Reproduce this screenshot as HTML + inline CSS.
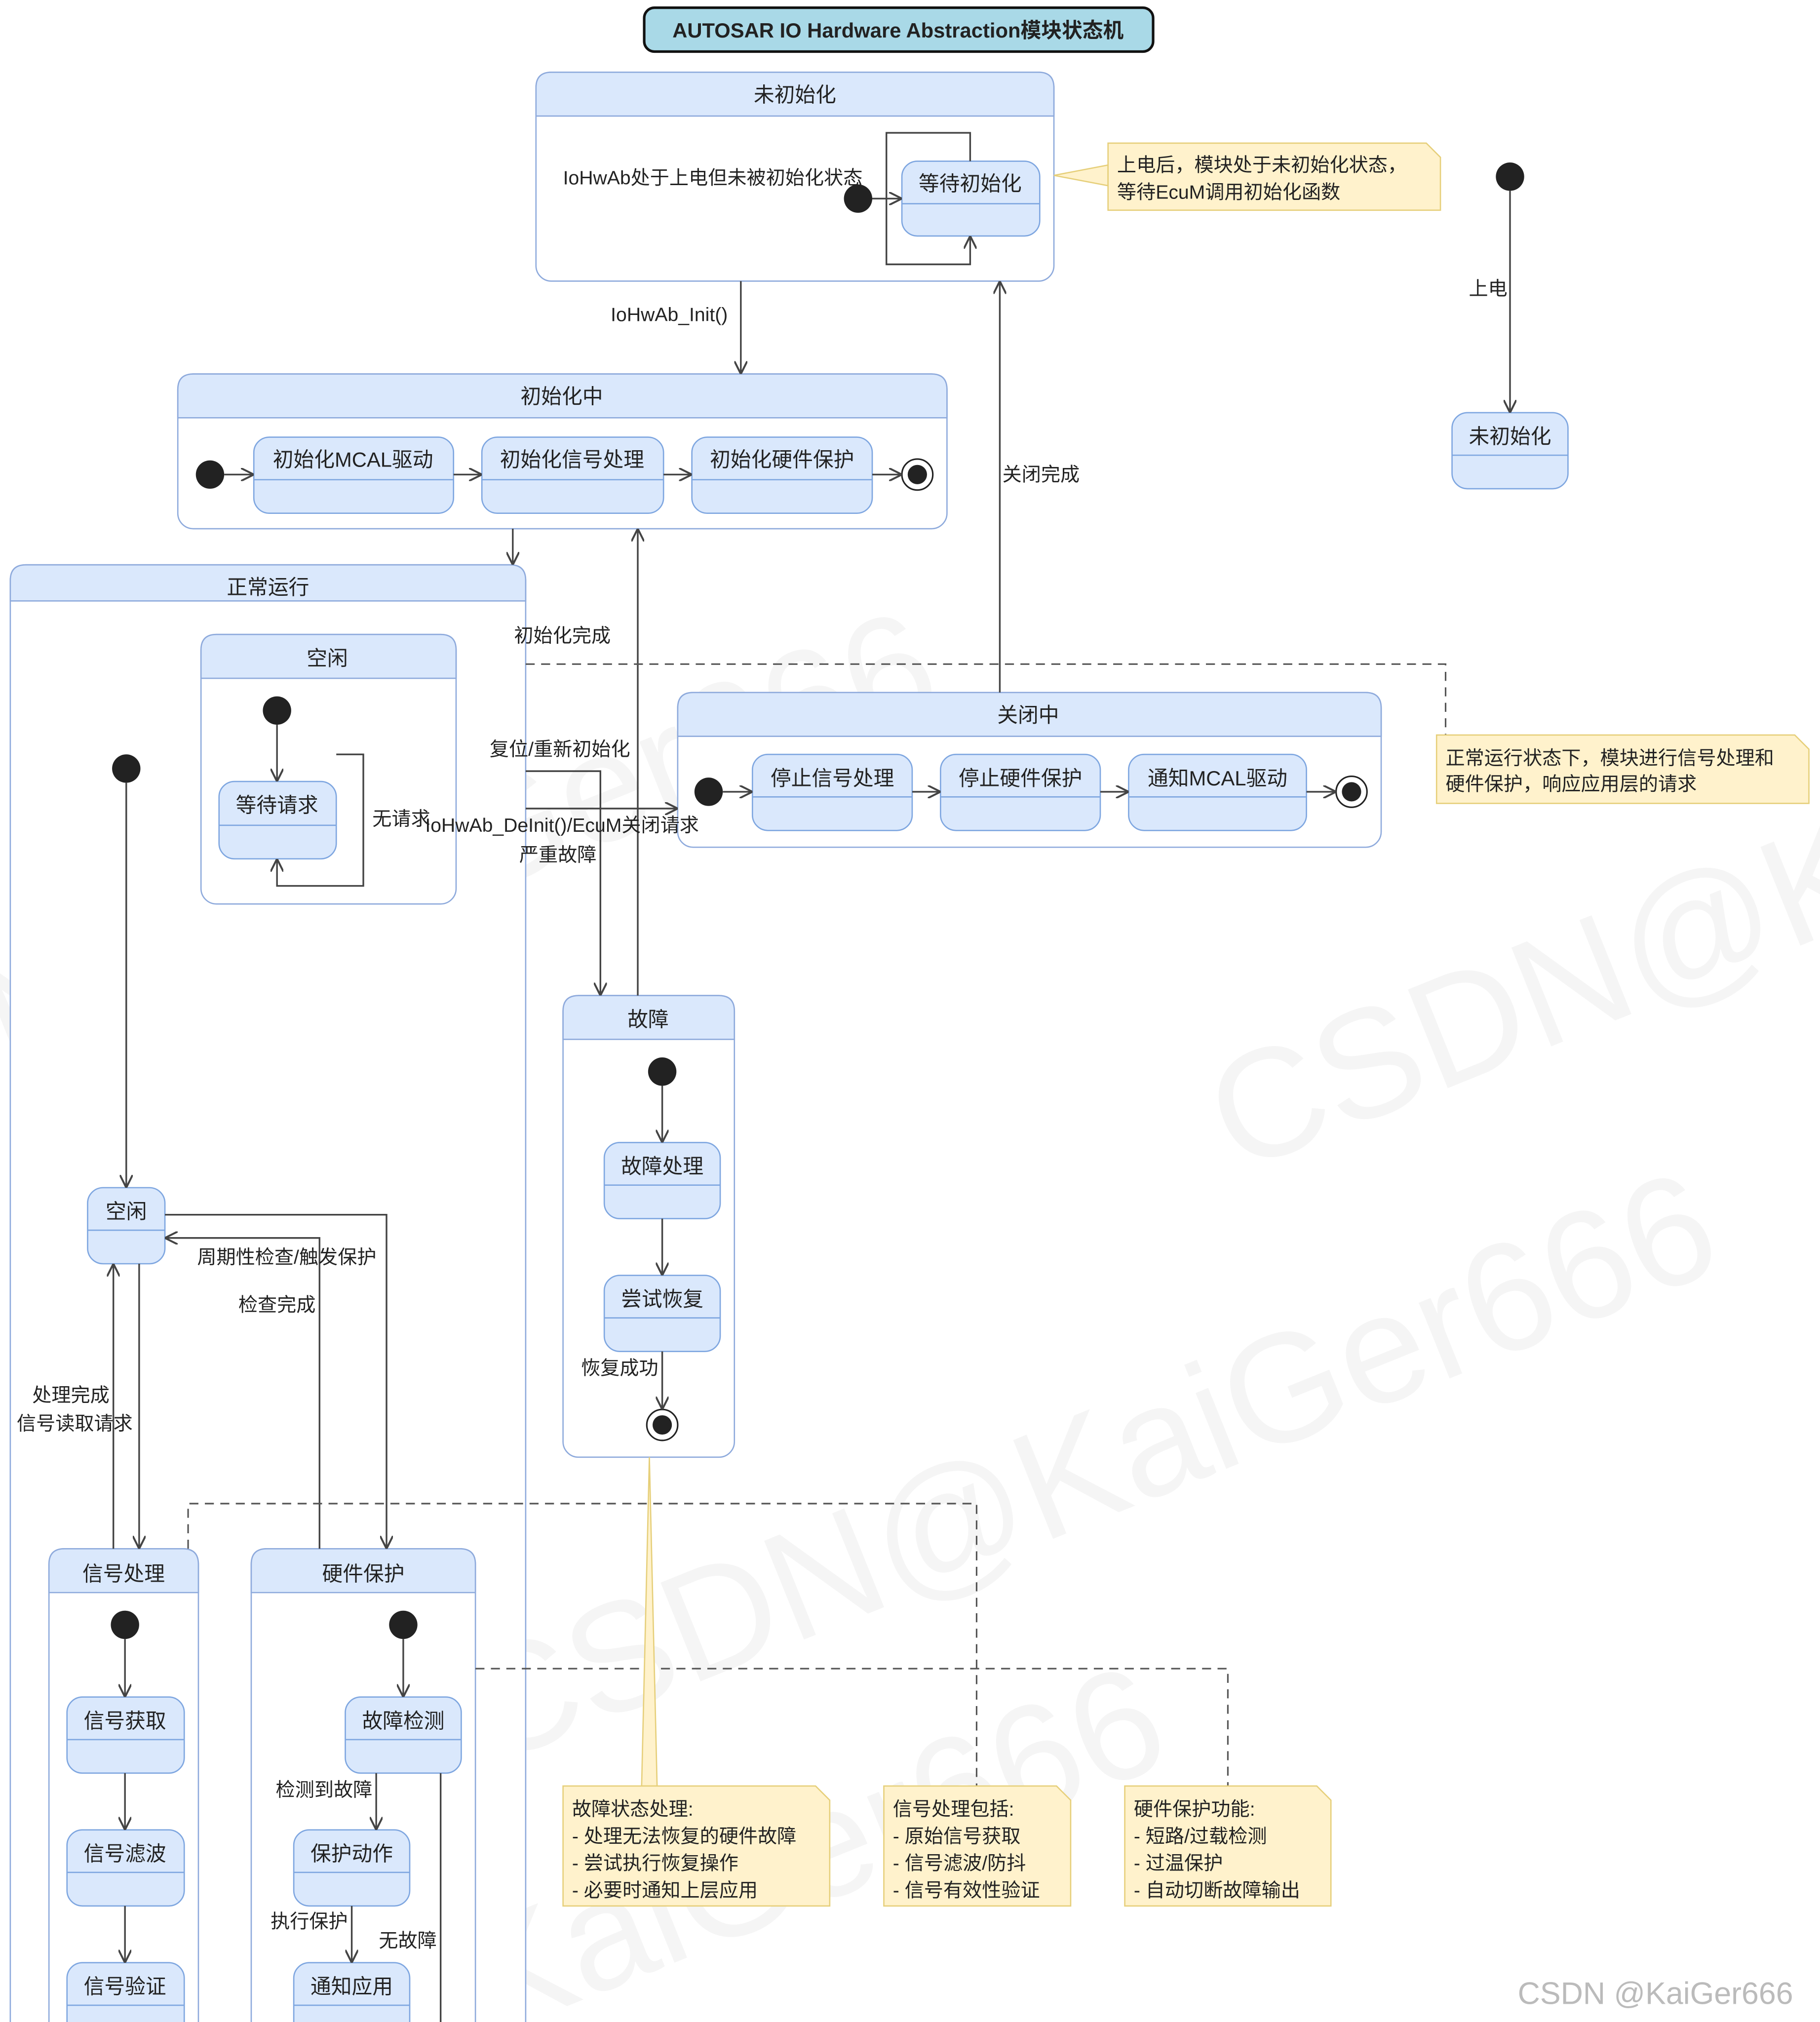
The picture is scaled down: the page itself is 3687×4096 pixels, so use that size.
<!DOCTYPE html>
<html><head><meta charset="utf-8"><style>
html,body{margin:0;padding:0;background:#fff}
svg{display:block}
text{font-family:"Liberation Sans","Noto Sans CJK SC",sans-serif;fill:#222}
</style></head><body>
<svg width="3687" height="4096" viewBox="0 0 1412.6 1568" preserveAspectRatio="none" xmlns="http://www.w3.org/2000/svg">
<defs>
<marker id="a" markerWidth="10" markerHeight="10" refX="9" refY="5" orient="auto" markerUnits="userSpaceOnUse"><path d="M0,0 L10,5 L0,10" fill="none" stroke="#444" stroke-width="1.5"/></marker>
</defs>
<rect width="1412.6" height="1568" fill="#fff"/>
<!-- watermarks -->
<g opacity="0.035" font-size="120">
<text x="10" y="840" transform="rotate(-22 10 840)" style="fill:#000">N@KaiGer666</text>
<text x="960" y="910" transform="rotate(-22 960 910)" style="fill:#000">CSDN@K</text>
<text x="380" y="1370" transform="rotate(-22 380 1370)" style="fill:#000">CSDN@KaiGer666</text>
<text x="380" y="1580" transform="rotate(-22 380 1580)" style="fill:#000">KaiGer666</text>
</g>

<!-- title -->
<rect x="500" y="6" width="395" height="34" rx="8" fill="#a9d9e7" stroke="#111" stroke-width="2"/>
<text x="697" y="29" font-size="16" font-weight="bold" text-anchor="middle">AUTOSAR IO Hardware Abstraction模块状态机</text>

<g stroke="#8eaadc" stroke-width="1">
<rect x="416" y="56" width="402" height="162" rx="12" fill="#fff"/>
<path d="M416,90 V68 Q416,56 428,56 H806 Q818,56 818,68 V90 Z" fill="#dae8fc"/>
<rect x="138" y="290" width="597" height="120" rx="12" fill="#fff"/>
<path d="M138,324 V302 Q138,290 150,290 H723 Q735,290 735,302 V324 Z" fill="#dae8fc"/>
<rect x="8" y="438" width="400" height="1160" rx="12" fill="#fff"/>
<path d="M8,466 V450 Q8,438 20,438 H396 Q408,438 408,450 V466 Z" fill="#dae8fc"/>
<rect x="156" y="492" width="198" height="209" rx="12" fill="#fff"/>
<path d="M156,526 V504 Q156,492 168,492 H342 Q354,492 354,504 V526 Z" fill="#dae8fc"/>
<rect x="526" y="537" width="546" height="120" rx="12" fill="#fff"/>
<path d="M526,571 V549 Q526,537 538,537 H1060 Q1072,537 1072,549 V571 Z" fill="#dae8fc"/>
<rect x="437" y="772" width="133" height="358" rx="12" fill="#fff"/>
<path d="M437,806 V784 Q437,772 449,772 H558 Q570,772 570,784 V806 Z" fill="#dae8fc"/>
<rect x="38" y="1201" width="116" height="400" rx="12" fill="#fff"/>
<path d="M38,1235 V1213 Q38,1201 50,1201 H142 Q154,1201 154,1213 V1235 Z" fill="#dae8fc"/>
<rect x="195" y="1201" width="174" height="400" rx="12" fill="#fff"/>
<path d="M195,1235 V1213 Q195,1201 207,1201 H357 Q369,1201 369,1213 V1235 Z" fill="#dae8fc"/>
</g>
<g font-size="16" text-anchor="middle">
<text x="617" y="79">未初始化</text>
<text x="436" y="313">初始化中</text>
<text x="208" y="461">正常运行</text>
<text x="254" y="516">空闲</text>
<text x="798" y="560">关闭中</text>
<text x="503" y="796">故障</text>
<text x="96" y="1226">信号处理</text>
<text x="282" y="1226">硬件保护</text>
</g>

<g stroke="#7ea6e0" stroke-width="1" fill="#dae8fc">
<rect x="700" y="125" width="107" height="58" rx="12"/>
<rect x="1127" y="320" width="90" height="59" rx="12"/>
<rect x="197" y="339" width="155" height="59" rx="12"/>
<rect x="374" y="339" width="141" height="59" rx="12"/>
<rect x="537" y="339" width="140" height="59" rx="12"/>
<rect x="170" y="606" width="91" height="60" rx="12"/>
<rect x="68" y="921" width="60" height="59" rx="12"/>
<rect x="52" y="1316" width="91" height="59" rx="12"/>
<rect x="52" y="1419" width="91" height="59" rx="12"/>
<rect x="52" y="1522" width="91" height="59" rx="12"/>
<rect x="268" y="1316" width="90" height="59" rx="12"/>
<rect x="228" y="1419" width="90" height="59" rx="12"/>
<rect x="228" y="1522" width="90" height="59" rx="12"/>
<rect x="584" y="585" width="124" height="59" rx="12"/>
<rect x="730" y="585" width="124" height="59" rx="12"/>
<rect x="876" y="585" width="138" height="59" rx="12"/>
<rect x="469" y="886" width="90" height="59" rx="12"/>
<rect x="469" y="989" width="90" height="59" rx="12"/>
</g>
<g stroke="#7ea6e0" stroke-width="1">
<path d="M700,158H807 M1127,353H1217 M197,372H352 M374,372H515 M537,372H677 M170,640H261 M68,954H128 M52,1349H143 M52,1452H143 M52,1555H143 M268,1349H358 M228,1452H318 M228,1555H318 M584,618H708 M730,618H854 M876,618H1014 M469,919H559 M469,1022H559"/>
</g>
<g font-size="16" text-anchor="middle">
<text x="753" y="148">等待初始化</text>
<text x="1172" y="344">未初始化</text>
<text x="274" y="362">初始化MCAL驱动</text>
<text x="444" y="362">初始化信号处理</text>
<text x="607" y="362">初始化硬件保护</text>
<text x="215" y="630">等待请求</text>
<text x="98" y="945">空闲</text>
<text x="97" y="1340">信号获取</text>
<text x="97" y="1443">信号滤波</text>
<text x="97" y="1546">信号验证</text>
<text x="313" y="1340">故障检测</text>
<text x="273" y="1443">保护动作</text>
<text x="273" y="1546">通知应用</text>
<text x="646" y="609">停止信号处理</text>
<text x="792" y="609">停止硬件保护</text>
<text x="945" y="609">通知MCAL驱动</text>
<text x="514" y="910">故障处理</text>
<text x="514" y="1013">尝试恢复</text>
</g>

<g fill="#222">
<circle cx="666" cy="154" r="11"/><circle cx="1172" cy="137" r="11"/><circle cx="163" cy="368" r="11"/>
<circle cx="215" cy="551" r="11"/><circle cx="98" cy="596" r="11"/><circle cx="550" cy="614" r="11"/>
<circle cx="514" cy="831" r="11"/><circle cx="97" cy="1260" r="11"/><circle cx="313" cy="1260" r="11"/>
</g>
<g fill="#fff" stroke="#222" stroke-width="1.2">
<circle cx="712" cy="368" r="12"/><circle cx="1049" cy="614" r="12"/><circle cx="514" cy="1105" r="12"/>
</g>
<g fill="#222"><circle cx="712" cy="368" r="7.5"/><circle cx="1049" cy="614" r="7.5"/><circle cx="514" cy="1105" r="7.5"/></g>

<g stroke="#444" stroke-width="1.3" fill="none" marker-end="url(#a)">
<path d="M677,154H699"/>
<path d="M753,125V103H688V205H753V184"/>
<path d="M1172,148V319"/>
<path d="M575,218V289"/>
<path d="M174,368H196"/><path d="M352,368H373"/><path d="M515,368H536"/><path d="M677,368H699"/>
<path d="M398,410V437"/>
<path d="M495,772V411"/>
<path d="M776,537V219"/>
<path d="M215,562V605"/>
<path d="M261,585H282V687H215V667"/>
<path d="M98,607V920"/>
<path d="M128,942H300V1200"/>
<path d="M248,1201V960H129"/>
<path d="M88,1201V981"/>
<path d="M108,980V1200"/>
<path d="M408,598H466V771"/>
<path d="M408,627H525"/>
<path d="M561,614H583"/><path d="M708,614H729"/><path d="M854,614H875"/><path d="M1014,614H1036"/>
<path d="M514,842V885"/><path d="M514,945V988"/><path d="M514,1048V1092"/>
<path d="M97,1271V1315"/><path d="M97,1375V1418"/><path d="M97,1478V1521"/>
<path d="M313,1271V1315"/><path d="M292,1375V1418"/><path d="M273,1478V1521"/>
</g>
<path d="M342,1375V1568" stroke="#444" stroke-width="1.3"/>

<g stroke="#555" stroke-width="1.2" fill="none" stroke-dasharray="7,5">
<path d="M408,515H1122V570"/>
<path d="M146,1201V1166H758V1385"/>
<path d="M369,1294H953V1385"/>
</g>

<g font-size="15">
<text x="437" y="143">IoHwAb处于上电但未被初始化状态</text>
<text x="1140" y="229">上电</text>
<text x="474" y="249">IoHwAb_Init()</text>
<text x="778" y="373">关闭完成</text>
<text x="399" y="498">初始化完成</text>
<text x="380" y="586">复位/重新初始化</text>
<text x="289" y="640">无请求</text>
<text x="330" y="645">IoHwAb_DeInit()/EcuM关闭请求</text>
<text x="403" y="668">严重故障</text>
<text x="153" y="980">周期性检查/触发保护</text>
<text x="185" y="1017">检查完成</text>
<text x="25" y="1087">处理完成</text>
<text x="13" y="1109">信号读取请求</text>
<text x="451" y="1066">恢复成功</text>
<text x="214" y="1393">检测到故障</text>
<text x="210" y="1495">执行保护</text>
<text x="294" y="1510">无故障</text>
</g>

<g fill="#fff2cc" stroke="#e6cf7a" stroke-width="1">
<path d="M818,136 L860,128 L860,144 Z"/>
<path d="M860,111H1107L1118,122V163H860Z"/>
<path d="M1115,570H1393L1404,581V623H1115Z"/>
<path d="M504,1130 L498,1385 L510,1385 Z"/>
<path d="M437,1385H633L644,1396V1478H437Z"/>
<path d="M686,1385H820L831,1396V1478H686Z"/>
<path d="M873,1385H1022L1033,1396V1478H873Z"/>
</g>
<g font-size="15">
<text x="867" y="133">上电后，模块处于未初始化状态，</text>
<text x="867" y="154">等待EcuM调用初始化函数</text>
<text x="1122" y="593">正常运行状态下，模块进行信号处理和</text>
<text x="1122" y="613">硬件保护，响应应用层的请求</text>
<text x="444" y="1408">故障状态处理:</text>
<text x="444" y="1429">- 处理无法恢复的硬件故障</text>
<text x="444" y="1450">- 尝试执行恢复操作</text>
<text x="444" y="1471">- 必要时通知上层应用</text>
<text x="693" y="1408">信号处理包括:</text>
<text x="693" y="1429">- 原始信号获取</text>
<text x="693" y="1450">- 信号滤波/防抖</text>
<text x="693" y="1471">- 信号有效性验证</text>
<text x="880" y="1408">硬件保护功能:</text>
<text x="880" y="1429">- 短路/过载检测</text>
<text x="880" y="1450">- 过温保护</text>
<text x="880" y="1471">- 自动切断故障输出</text>
</g>
<text x="1178" y="1554" font-size="24" style="fill:#bbb">CSDN @KaiGer666</text>
</svg>
</body></html>
